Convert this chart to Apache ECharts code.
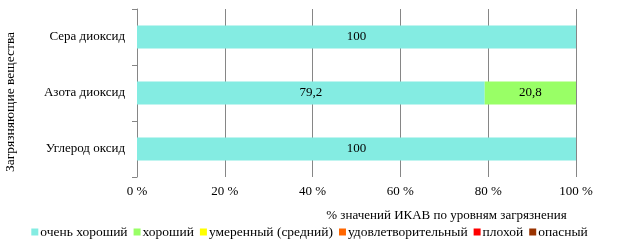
<!DOCTYPE html>
<html><head><meta charset="utf-8">
<script src="https://cdn.jsdelivr.net/npm/echarts@6/dist/echarts.min.js"></script>
<style>html,body{margin:0;padding:0;background:#fff}#c{width:619px;height:244px}</style>
</head><body><div id="c"></div>
<script>
const categories = ['Углерод оксид', 'Азота диоксид', 'Сера диоксид'];
const seriesNames = ['очень хороший', 'хороший', 'умеренный (средний)', 'удовлетворительный', 'плохой', 'опасный'];
const veryGood = [100, 79.2, 100];
const good = [0, 20.8, 0];
const moderate = [0, 0, 0];
const satisfactory = [0, 0, 0];
const bad = [0, 0, 0];
const dangerous = [0, 0, 0];
const xTicks = [0, 20, 40, 60, 80, 100];
const colors = ['#84ECE2', '#99FF66', '#FFFF00', '#FF6600', '#FF0000', '#993300'];
const allData = [veryGood, good, moderate, satisfactory, bad, dangerous];
const font = '"Liberation Serif", "Times New Roman", serif';

const chart = echarts.init(document.getElementById('c'), null, {renderer: 'canvas'});
chart.setOption({
  animation: false,
  textStyle: {fontFamily: font},
  grid: {left: 137, right: 43, top: 9, bottom: 67, containLabel: false, outerBoundsMode: 'none'},
  xAxis: {
    type: 'value', min: 0, max: 100, interval: 20,
    name: '% значений ИКАВ по уровням загрязнения',
    nameLocation: 'middle', nameGap: 32,
    nameTextStyle: {fontFamily: font, fontSize: 13, color: '#000', padding: [0, 0, 0, 180]},
    axisLine: {show: false}, axisTick: {show: false},
    axisLabel: {fontFamily: font, fontSize: 13, color: '#000', margin: 8,
      formatter: v => xTicks.includes(v) ? v + ' %' : ''},
    splitLine: {show: true, lineStyle: {color: '#868686', width: 1}}
  },
  yAxis: {
    type: 'category', data: categories,
    name: 'Загрязняющие вещества', nameLocation: 'middle', nameGap: 120, nameRotate: 90,
    nameTextStyle: {fontFamily: font, fontSize: 13.5, color: '#000', padding: [0, 18, 0, 0]},
    axisLine: {show: true, lineStyle: {color: '#868686'}},
    axisTick: {show: true, length: 5, lineStyle: {color: '#868686'}},
    axisLabel: {fontFamily: font, fontSize: 13, color: '#000', margin: 12}
  },
  legend: {
    bottom: 0, left: 'center', itemWidth: 7, itemHeight: 7, itemGap: 6,
    icon: 'rect',
    textStyle: {fontFamily: font, fontSize: 13.5, color: '#000', padding: [0, 0, 0, -3]},
    data: seriesNames
  },
  series: seriesNames.map((n, i) => ({
    name: n, type: 'bar', stack: 'total', barWidth: 23,
    itemStyle: {color: colors[i]},
    label: {show: true, position: 'inside', color: '#000', fontFamily: font, fontSize: 13,
      formatter: p => p.value ? String(p.value).replace('.', ',') : ''},
    data: allData[i]
  }))
});
</script></body></html>
